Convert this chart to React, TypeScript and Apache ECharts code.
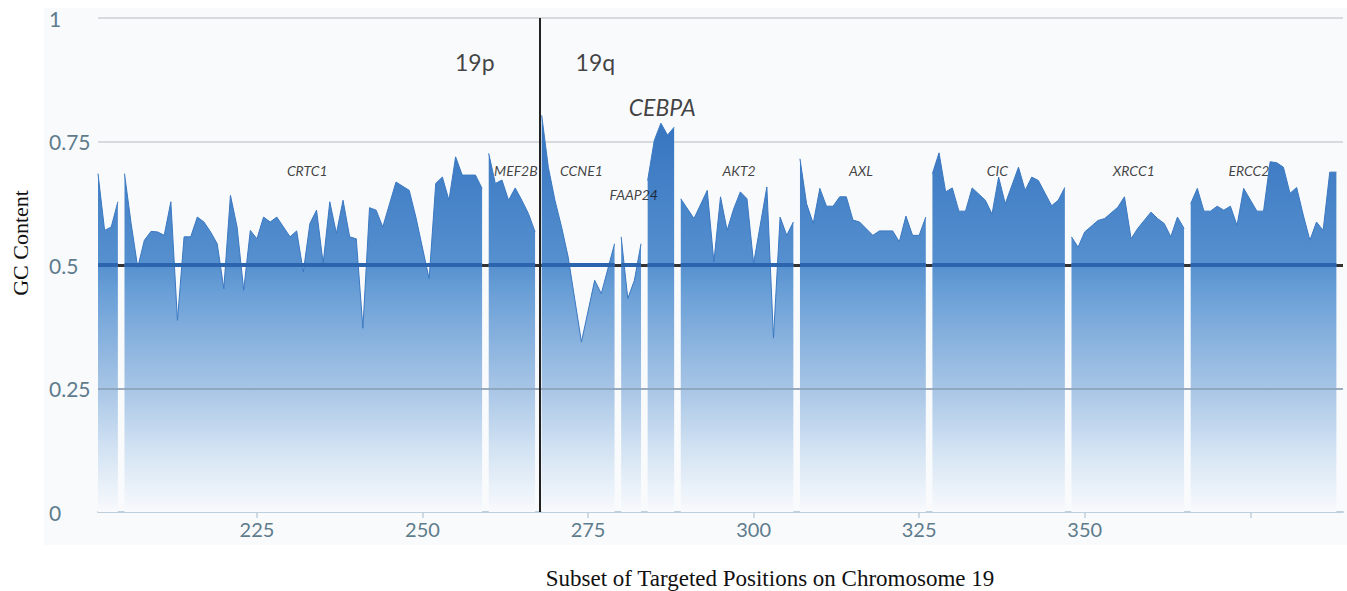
import React, { useEffect, useRef } from "react";
import * as echarts from "echarts";

// GC content per targeted position, one array per contiguous block (gaps between blocks)
const block1: [number, number][] = [[201, 0.685], [202, 0.57], [203, 0.577], [204, 0.628]];
const block2: [number, number][] = [
  [205, 0.685], [206, 0.584], [207, 0.495], [208, 0.55], [209, 0.568], [210, 0.567], [211, 0.56],
  [212, 0.628], [213, 0.388], [214, 0.557], [215, 0.557], [216, 0.597], [217, 0.587], [218, 0.567],
  [219, 0.543], [220, 0.452], [221, 0.641], [222, 0.577], [223, 0.449], [224, 0.57], [225, 0.553],
  [226, 0.597], [227, 0.587], [228, 0.597], [229, 0.577], [230, 0.557], [231, 0.569], [232, 0.486],
  [233, 0.584], [234, 0.611], [235, 0.503], [236, 0.628], [237, 0.564], [238, 0.631], [239, 0.557],
  [240, 0.553], [241, 0.372], [242, 0.616], [243, 0.611], [244, 0.577], [246, 0.668], [248, 0.651],
  [249, 0.597], [251, 0.472], [252, 0.665], [253, 0.678], [254, 0.631], [255, 0.719], [256, 0.682],
  [258, 0.682], [259, 0.655],
];
const block3: [number, number][] = [
  [260, 0.726], [261, 0.665], [262, 0.672], [263, 0.631], [264, 0.656], [265, 0.631], [266, 0.604], [267, 0.567],
];
const block4: [number, number][] = [
  [268, 0.803], [269, 0.698], [270, 0.631], [271, 0.577], [272, 0.516], [274, 0.344], [276, 0.469],
  [277, 0.442], [279, 0.543],
];
const block5: [number, number][] = [[280, 0.557], [281, 0.432], [282, 0.469], [283, 0.543]];
const block6: [number, number][] = [[284, 0.671], [285, 0.752], [286, 0.787], [287, 0.763], [288, 0.779]];
const block7: [number, number][] = [
  [289, 0.634], [291, 0.594], [293, 0.651], [294, 0.506], [295, 0.638], [296, 0.57], [297, 0.614],
  [298, 0.648], [299, 0.634], [300, 0.503], [302, 0.658], [303, 0.352], [304, 0.597], [305, 0.56], [306, 0.587],
];
const block8: [number, number][] = [
  [307, 0.715], [308, 0.624], [309, 0.584], [310, 0.655], [311, 0.619], [312, 0.619], [313, 0.638],
  [314, 0.638], [315, 0.591], [316, 0.587], [318, 0.56], [319, 0.569], [321, 0.569], [322, 0.547],
  [323, 0.599], [324, 0.56], [325, 0.56], [326, 0.597],
];
const block9: [number, number][] = [
  [327, 0.685], [328, 0.727], [329, 0.648], [330, 0.656], [331, 0.609], [332, 0.609], [333, 0.656],
  [335, 0.631], [336, 0.603], [337, 0.678], [338, 0.624], [340, 0.698], [341, 0.651], [342, 0.678],
  [343, 0.671], [345, 0.62], [346, 0.631], [347, 0.657],
];
const block10: [number, number][] = [
  [348, 0.557], [349, 0.536], [350, 0.567], [352, 0.59], [353, 0.594], [355, 0.617], [356, 0.638],
  [357, 0.553], [358, 0.574], [360, 0.607], [361, 0.594], [362, 0.584], [363, 0.557], [364, 0.597], [365, 0.574],
];
const block11: [number, number][] = [
  [366, 0.624], [367, 0.655], [368, 0.609], [369, 0.609], [370, 0.619], [371, 0.611], [372, 0.619],
  [373, 0.58], [374, 0.655], [376, 0.609], [377, 0.609], [378, 0.709], [379, 0.707], [380, 0.698],
  [381, 0.645], [382, 0.657], [383, 0.601], [384, 0.55], [385, 0.587], [386, 0.57], [387, 0.688], [388, 0.688],
];
const blocks = [block1, block2, block3, block4, block5, block6, block7, block8, block9, block10, block11];

const xLabelValues = [225, 250, 275, 300, 325, 350];
const xTickValues = [225, 250, 275, 300, 325, 350, 375];
const xMin = 201;
const xMax = 389;
const threshold = 0.5;
const gridMarkValue = 0.25;
const centromereX = 267.7;

const geneNames = ["CRTC1", "MEF2B", "CCNE1", "FAAP24", "AKT2", "AXL", "CIC", "XRCC1", "ERCC2"];
const geneX = [232.6, 264.1, 274.0, 281.9, 297.8, 316.2, 336.8, 357.4, 374.8];
const geneY = [0.692, 0.692, 0.692, 0.642, 0.692, 0.692, 0.692, 0.692, 0.692];
const armNames = ["19p", "19q"];
const armX = [257.9, 276.1];
const armY = [0.91, 0.91];
const highlightGene = "CEBPA";
const highlightX = 286.2;
const highlightY = 0.819;

const LABEL_FONT = "Lato, 'Noto Sans', sans-serif";
const AXIS_COLOR = "#5e7c8c";

export default function App() {
  const ref = useRef<HTMLDivElement>(null);

  useEffect(() => {
    if (!ref.current) return;
    const chart = echarts.init(ref.current, undefined, { renderer: "svg" });

    const gcData: any[] = [];
    const midData: any[] = [];
    blocks.forEach((b, i) => {
      if (i > 0) {
        const prevEnd = blocks[i - 1][blocks[i - 1].length - 1][0];
        const gapX = (prevEnd + b[0][0]) / 2;
        gcData.push([gapX, "-"]);
        midData.push([gapX, "-"]);
      }
      b.forEach(([x, y]) => {
        gcData.push([x, y]);
        midData.push([x, threshold]);
      });
    });

    const labelData: any[] = [];
    geneNames.forEach((n, i) =>
      labelData.push({
        name: n,
        value: [geneX[i], geneY[i]],
        label: { fontSize: 14, fontStyle: "italic" },
      })
    );
    armNames.forEach((n, i) =>
      labelData.push({ name: n, value: [armX[i], armY[i]], label: { fontSize: 23 } })
    );
    labelData.push({
      name: highlightGene,
      value: [highlightX, highlightY],
      label: { fontSize: 23, fontStyle: "italic" },
    });

    const fill = new echarts.graphic.LinearGradient(
      0,
      100,
      0,
      512,
      [
        { offset: 0, color: "#3472be" },
        { offset: 0.1, color: "#3a78c2" },
        { offset: 0.4, color: "#5690cf" },
        { offset: 0.46, color: "#689ed6" },
        { offset: 0.7, color: "#a7c5e6" },
        { offset: 0.85, color: "#d3e3f3" },
        { offset: 1, color: "#f8fafd" },
      ],
      true
    );

    chart.setOption({
      animation: false,
      grid: { left: 98, right: 4, top: 18, bottom: 79, containLabel: false },
      graphic: [
        {
          type: "rect",
          z: -10,
          silent: true,
          shape: { x: 44, y: 8, width: 1303, height: 537 },
          style: { fill: "#f9fafc" },
        },
        {
          type: "text",
          x: 20,
          y: 243,
          rotation: Math.PI / 2,
          style: {
            text: "GC Content",
            font: "22px 'Liberation Serif', 'Times New Roman', serif",
            fill: "#111",
            align: "center",
            verticalAlign: "middle",
          },
        },
        {
          type: "text",
          x: 770,
          y: 578,
          style: {
            text: "Subset of Targeted Positions on Chromosome 19",
            font: "23px 'Liberation Serif', 'Times New Roman', serif",
            fill: "#111",
            align: "center",
            verticalAlign: "middle",
          },
        },
      ],
      xAxis: {
        type: "value",
        min: xMin,
        max: xMax,
        axisLine: { show: true, onZero: false, lineStyle: { color: "#bfcfdc", width: 2 } },
        axisTick: { show: true, customValues: xTickValues, length: 6, lineStyle: { color: "#bfcfdc", width: 1.5 } },
        axisLabel: {
          customValues: xLabelValues,
          color: AXIS_COLOR,
          fontSize: 20,
          fontFamily: LABEL_FONT,
          margin: 7,
        },
        splitLine: { show: false },
      },
      yAxis: {
        type: "value",
        min: 0,
        max: 1,
        interval: 0.25,
        axisLine: { show: false },
        axisTick: { show: false },
        axisLabel: {
          align: "left",
          margin: 49,
          color: AXIS_COLOR,
          fontSize: 21,
          fontFamily: LABEL_FONT,
        },
        splitLine: { show: true, lineStyle: { color: "#d8dadd", width: 2 } },
      },
      series: [
        {
          name: "ref",
          type: "line",
          data: [],
          z: 1,
          markLine: {
            z: 1,
            silent: true,
            symbol: "none",
            label: { show: false },
            lineStyle: { color: "#333333", width: 3, type: "solid" },
            data: [{ yAxis: threshold }],
          },
        },
        {
          name: "GC Content",
          type: "line",
          data: gcData,
          z: 2,
          showSymbol: false,
          connectNulls: false,
          lineStyle: { color: "#3a78c1", width: 1 },
          areaStyle: { color: fill, opacity: 1 },
          markLine: {
            z: 6,
            silent: true,
            symbol: "none",
            label: { show: false },
            data: [
              { yAxis: gridMarkValue, lineStyle: { color: "#879db3", width: 1.5, type: "solid" } },
              { xAxis: centromereX, lineStyle: { color: "#222222", width: 2, type: "solid" } },
            ],
          },
        },
        {
          name: "mid",
          type: "line",
          data: midData,
          z: 3,
          showSymbol: false,
          connectNulls: false,
          lineStyle: { color: "#2c65ad", width: 4 },
        },
        {
          name: "labels",
          type: "scatter",
          z: 10,
          silent: true,
          symbolSize: 1,
          itemStyle: { color: "rgba(0,0,0,0)" },
          label: {
            show: true,
            position: "inside",
            formatter: "{b}",
            color: "#111111",
            fontFamily: LABEL_FONT,
          },
          data: labelData,
        },
      ],
    });

    return () => chart.dispose();
  }, []);

  return (
    <div
      ref={ref}
      style={{ position: "fixed", left: 0, top: 0, width: 1347, height: 591, background: "#ffffff" }}
    />
  );
}
